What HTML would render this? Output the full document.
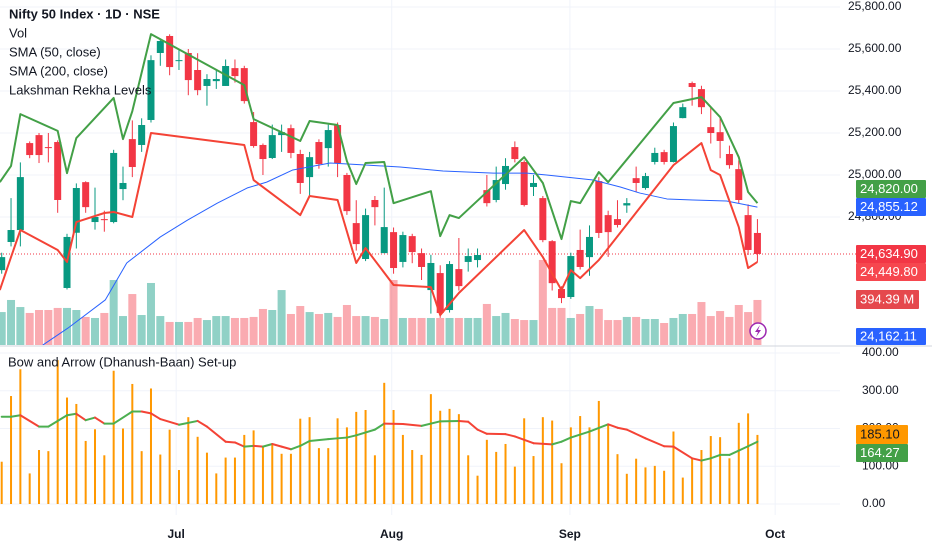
<!DOCTYPE html>
<html><head><meta charset="utf-8">
<style>
html,body{margin:0;padding:0;background:#fff;}
body{width:932px;height:550px;overflow:hidden;font-family:"Liberation Sans",sans-serif;}
svg text{font-family:"Liberation Sans",sans-serif;}
</style></head>
<body>
<svg id="chart" width="932" height="550" viewBox="0 0 932 550" xmlns="http://www.w3.org/2000/svg">
  <g id="grid"></g>
  <g id="vol"></g>
  <g id="candles"></g>
  <g id="lines"></g>
  <g id="bottom"></g>
  <g id="axes"></g>
</svg>
<script>
const opens=[24547,24681,24738,25152,25190,25133,25157,24462,24725,24966,24776,24790,24776,24933,25171,25143,25262,25581,25662,25543,25581,25500,25424,25447,25424,25509,25509,25252,25143,25081,25190,25223,25100,24990,25157,25128,25238,25000,24771,24600,24881,24628,24728,24586,24709,24628,24452,24533,24357,24552,24586,24595,24928,24881,24957,25133,25062,24943,24890,24685,24457,24419,24643,24609,24971,24809,24790,24855,24985,24938,25062,25109,25062,25271,25438,25409,25228,25204,25100,25028,24809,24724];
const closes=[24609,24738,24990,25095,25095,25128,24881,24705,24938,24847,24800,24785,25105,24962,25038,25238,25547,25638,25514,25547,25452,25404,25457,25457,25519,25471,25352,25138,25076,25190,25204,25105,24962,25085,25052,25214,25057,24828,24671,24809,24847,24752,24557,24714,24633,24562,24581,24343,24576,24471,24614,24619,24866,24976,25043,25076,24857,24962,24690,24485,24414,24614,24562,24705,24724,24728,24762,24866,24962,24995,25105,25062,25233,25323,25419,25323,25200,25162,25047,24881,24643,24624];
const highs=[24630,24890,25060,25160,25200,25200,25165,24720,24960,24970,24940,24830,25120,25040,25260,25270,25570,25650,25670,25600,25600,25580,25480,25500,25550,25550,25520,25300,25150,25240,25240,25240,25120,25110,25170,25240,25250,25010,24880,24840,24900,24940,24750,24730,24720,24650,24620,24570,24590,24700,24650,24650,25000,25040,25080,25160,25070,25000,24900,24690,24470,24630,24740,24760,24990,24830,24880,24890,25040,25010,25130,25120,25250,25340,25445,25425,25320,25270,25140,25070,24860,24790];
const lows=[24530,24660,24660,25080,25057,25060,24820,24455,24650,24820,24740,24730,24770,24880,24990,25110,25250,25520,25475,25500,25380,25380,25330,25410,25424,25440,25340,25130,25000,25076,25110,25080,24910,24900,25030,25040,24990,24810,24640,24590,24760,24628,24530,24560,24580,24500,24340,24320,24345,24450,24540,24560,24850,24870,24930,25060,24850,24900,24680,24450,24390,24410,24550,24520,24700,24610,24750,24820,24920,24930,25050,25050,25060,25270,25330,25290,25150,25080,25030,24866,24619,24586];
const volumes=[289,395,333,281,307,307,325,325,307,246,237,281,570,254,447,263,544,254,202,202,202,237,219,254,254,237,237,246,316,307,482,272,342,289,272,281,246,351,254,254,246,228,570,237,237,237,237,237,237,237,237,237,360,254,281,228,219,219,746,325,325,237,272,342,316,219,219,246,246,228,228,193,237,272,272,377,254,298,246,351,289,395];
const upperIdx=[-0.2,1,2,6,7,8,12,13,14,16,26,27,32,33,36,37,38,39,41,42,46,47,48,49,56,58,60,61,62,64,65,72,75,77,79,80,81];
const upperVal=[24966,25043,25290,25210,25009,25176,25367,25171,25304,25671,25428,25266,25162,25257,25238,25066,24957,25057,25062,24866,24923,24709,24809,24795,25085,24962,24695,24876,24866,25014,24966,25343,25371,25276,25085,24919,24866];
const lowerIdx=[-0.2,1,2,6,7,8,11,12,14,16,26,27,32,33,36,38,39,42,46,47,49,56,58,60,61,62,64,72,75,76,77,79,80,81];
const lowerVal=[24452,24609,24738,24643,24586,24776,24819,24824,24800,25200,25143,24976,24809,24900,24881,24581,24652,24476,24466,24333,24438,24738,24609,24452,24547,24509,24595,25047,25152,25023,25000,24752,24557,24586];
const smaIdx=[4.4,7.1,11.1,13.4,17,19.9,23.1,26.3,28.4,31.2,35.2,39.2,42.7,47.3,52.7,56.3,58.4,63.4,66.3,68.4,71.3,74.1,77.7,81];
const smaVal=[24190,24271,24405,24581,24705,24785,24866,24938,24966,25024,25057,25047,25038,25019,25009,25009,25000,24976,24943,24914,24886,24881,24876,24847];
const bowValues=[112,286,357,81,143,140,381,282,265,167,198,129,353,200,318,140,306,131,197,90,230,178,136,81,123,123,183,195,154,158,133,133,226,230,148,148,227,203,244,249,129,321,249,183,143,130,291,247,252,238,129,75,170,138,159,99,227,127,230,221,108,203,233,203,273,211,132,80,120,97,101,88,192,70,121,143,180,177,121,215,240,183];
const maIdx=[0,1,2,4,5,7,8,9,10,11,12,14,15,16,17,19,21,22,24,25,26,27,28,29,30,31,32,33,35,36,37,38,40,41,43,45,47,49,50,51,52,54,55,57,59,60,61,63,65,66,67,69,71,72,74,75,76,77,78,80,81];
const maVal=[231,231,235,205,205,235,239,222,229,213,213,245,245,240,225,210,220,205,165,163,152,154,152,159,152,145,154,167,172,174,176,182,197,213,212,207,219,220,218,197,186,185,179,161,158,165,176,192,211,202,197,174,153,152,121,115,121,130,130,153,165];
const priceTicks=[25800,25600,25400,25200,25000,24800];
const priceTickLabels=["25,800.00","25,600.00","25,400.00","25,200.00","25,000.00","24,800.00"];
const bowTicks=[400,300,200,100,0];
const bowTickLabels=["400.00","300.00","200.00","100.00","0.00"];
const months=["Jul","Aug","Sep","Oct"];
const monthIdx=[18.7,41.8,60.9,82.9];

const NS="http://www.w3.org/2000/svg";
function xOf(i){return 1.7+i*9.33;}
function yP(p){return 7+(25800-p)*0.21;}
function yV(v){return 345-v*0.114;}
function yB(v){return 504-v*0.3775;}
function mk(tag,attrs,parent){const e=document.createElementNS(NS,tag);for(const k in attrs)e.setAttribute(k,attrs[k]);parent.appendChild(e);return e;}
const G=id=>document.getElementById(id);
const UP="#089981",DN="#f23645";

// grid
const grid=G('grid');
priceTicks.forEach(t=>{const l=mk('line',{x1:0,x2:840,y1:yP(t),y2:yP(t),stroke:"#f0f3fa","stroke-width":1},grid);

});
bowTicks.forEach(t=>{const l=mk('line',{x1:0,x2:840,y1:yB(t),y2:yB(t),stroke:"#f0f3fa","stroke-width":1},grid);

});
monthIdx.forEach(m=>{const l=mk('line',{x1:xOf(m),x2:xOf(m),y1:0,y2:515,stroke:"#f0f3fa","stroke-width":1},grid);

});
const sep=mk('line',{x1:0,x2:932,y1:346,y2:346,stroke:"#d1d4dc","stroke-width":1},grid);


// close price dotted line
const cl=mk('line',{x1:0,x2:856,y1:yP(closes[closes.length-1]),y2:yP(closes[closes.length-1]),stroke:"#f23645","stroke-width":1,"stroke-dasharray":"1 2"},grid);



// volume
const vg=G('vol');
volumes.forEach((v,i)=>{const up=closes[i]>=opens[i];
const r=mk('rect',{x:xOf(i)-4,y:yV(v),width:8,height:345-yV(v),fill:up?"rgba(8,153,129,0.45)":"rgba(242,54,69,0.42)"},vg);

});

// candles
const cg=G('candles');
opens.forEach((o,i)=>{const c=closes[i];const up=c>=o;const col=up?UP:DN;const x=xOf(i);
const w=mk('line',{x1:x,x2:x,y1:yP(highs[i]),y2:yP(lows[i]),stroke:col,"stroke-width":1},cg);


const top=yP(Math.max(o,c)),bot=yP(Math.min(o,c));
const b=mk('rect',{x:x-3.5,y:top,width:7,height:Math.max(1,bot-top),fill:col},cg);

});

// lines
const lg=G('lines');
function poly(idx,val,col,w,name){const pts=idx.map((k,j)=>xOf(k)+","+yP(val[j])).join(" ");
const p=mk('polyline',{points:pts,fill:"none",stroke:col,"stroke-width":w,"stroke-linejoin":"round"},lg);

}
const clip=mk('clipPath',{id:'pc'},lg);mk('rect',{x:0,y:0,width:850,height:345},clip);
lg.setAttribute('clip-path','url(#pc)');
poly(smaIdx,smaVal,"#2962ff",1,'sma-50-line');
poly(upperIdx,upperVal,"#43a047",2,'lakshman-upper-line');
poly(lowerIdx,lowerVal,"#f44336",2,'lakshman-lower-line');

// bottom pane
const bg=G('bottom');
bowValues.forEach((v,i)=>{const r=mk('rect',{x:xOf(i)-1,y:yB(v),width:2,height:504-yB(v),fill:"#ff9800"},bg);

});
for(let j=0;j<maIdx.length-1;j++){const rising=maVal[j+1]>=maVal[j];
const l=mk('line',{x1:xOf(maIdx[j]),y1:yB(maVal[j]),x2:xOf(maIdx[j+1]),y2:yB(maVal[j+1]),stroke:rising?"#4caf50":"#f44336","stroke-width":2,"stroke-linecap":"round"},bg);

}

// axes
const ag=G('axes');
function txt(s,x,y,opt,name){const t=mk('text',Object.assign({x:x,y:y,"font-size":12,fill:"#131722","dominant-baseline":"middle"},opt||{}),ag);t.textContent=s;

return t;}
priceTicks.forEach((t,j)=>txt(priceTickLabels[j],848,yP(t),{},'price-tick-label'));
bowTicks.forEach((t,j)=>txt(bowTickLabels[j],862,yB(t),{},'bow-tick-label'));
months.forEach((m,j)=>txt(m,xOf(monthIdx[j]),535,{"text-anchor":"middle","font-weight":"bold"},'time-tick-label'));
function badge(s,y,h,bgc,fg,w,name){const r=mk('rect',{x:856,y:y,width:w,height:h,fill:bgc,rx:1},ag);


txt(s,860,y+h/2+0.5,{fill:fg,"font-size":13},name);}
badge("24,820.00",180,18,"#43a047","#fff",70,'upper-level-label');
badge("24,855.12",198,18,"#2962ff","#fff",70,'sma-label');
badge("24,634.90",245,18,"#f23645","#fff",70,'last-price-label');
badge("24,449.80",263,18,"#f6474f","#fff",70,'lower-level-label');
badge("394.39 M",290,19,"#e5484d","#fff",63,'volume-label');
badge("24,162.11",328,17,"#2962ff","#fff",70,'sma200-label');
badge("185.10",425,19,"#ff9800","#131722",52,'bow-value-label');
badge("164.27",444,18,"#43a047","#fff",52,'bow-ma-label');
// legend
txt("Nifty 50 Index · 1D · NSE",9,15,{"font-size":13,"font-weight":"bold"},'chart-title');
txt("Vol",9,34,{"font-size":13},'legend-vol');
txt("SMA (50, close)",9,53,{"font-size":13},'legend-sma50');
txt("SMA (200, close)",9,72,{"font-size":13},'legend-sma200');
txt("Lakshman Rekha Levels",9,91,{"font-size":13},'legend-lakshman');
txt("Bow and Arrow (Dhanush-Baan) Set-up",8,363,{"font-size":13},'bow-panel-title');
// lightning icon
const ic=mk('circle',{cx:758,cy:331,r:8,fill:"#fff",stroke:"#9c27b0","stroke-width":1.5},ag);


const bolt=mk('path',{d:"M760 325 L755 332 L758 332 L756 337 L761 330 L758 330 Z",fill:"#9c27b0"},ag);


</script>
</body></html>
